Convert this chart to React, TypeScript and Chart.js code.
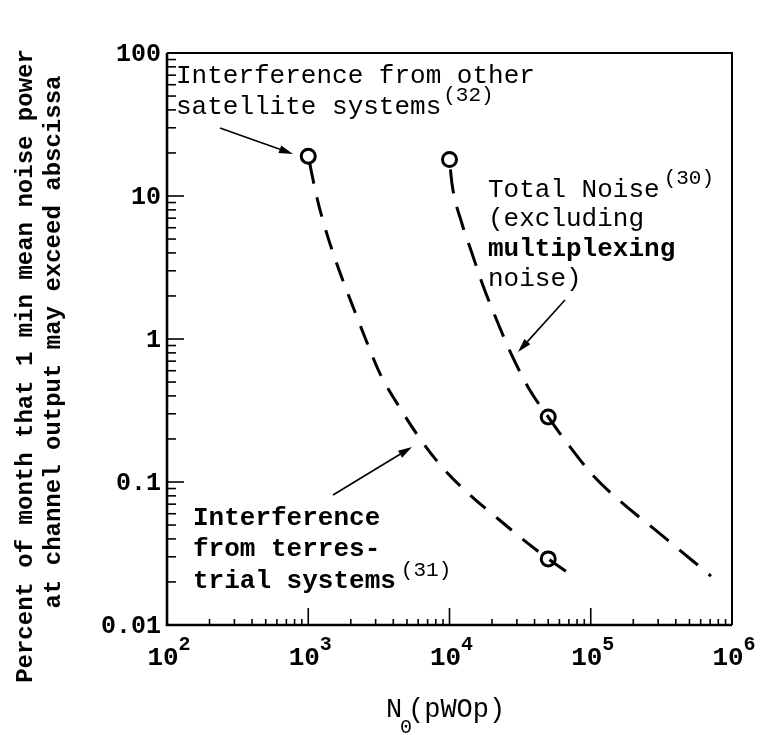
import React, { useEffect, useRef } from "react";
import { Chart, registerables } from "chart.js";

Chart.register(...registerables);

// ---- data ----
const xDecadeExponents = [2, 3, 4, 5, 6];
const yTickValues = [100, 10, 1, 0.1, 0.01];
const yTickLabels = ["100", "10", "1", "0.1", "0.01"];

// Interference from terrestrial systems (31)
const terrestrialX = [1000, 1150, 1350, 1680, 2140, 2600, 3200, 4450, 6200, 9000, 14000, 22700, 35000, 50000, 80000];
const terrestrialY = [19, 9.8, 5.5, 2.9, 1.55, 0.95, 0.58, 0.33, 0.2, 0.125, 0.081, 0.054, 0.038, 0.029, 0.021];

// Total noise (30)
const totalX = [10000, 10400, 12200, 14400, 17200, 21300, 27600, 37000, 50000, 63500, 103000, 153000, 313000, 710000];
const totalY = [18, 12.3, 6.5, 4.0, 2.39, 1.4, 0.77, 0.44, 0.285, 0.205, 0.112, 0.077, 0.043, 0.022];

// circled reference points
const markerX = [1000, 10000, 50000, 50000];
const markerY = [19, 18, 0.285, 0.029];

const MONO = "'Liberation Mono', 'DejaVu Sans Mono', monospace";

function arrow(ctx: CanvasRenderingContext2D, x1: number, y1: number, x2: number, y2: number) {
  ctx.save();
  ctx.strokeStyle = "#000";
  ctx.fillStyle = "#000";
  ctx.lineWidth = 1.6;
  const a = Math.atan2(y2 - y1, x2 - x1);
  const hl = 14, hw = 4;
  const bx = x2 - hl * Math.cos(a), by = y2 - hl * Math.sin(a);
  ctx.beginPath();
  ctx.moveTo(x1, y1);
  ctx.lineTo(bx, by);
  ctx.stroke();
  ctx.beginPath();
  ctx.moveTo(x2, y2);
  ctx.lineTo(bx + hw * Math.sin(a), by - hw * Math.cos(a));
  ctx.lineTo(bx - hw * Math.sin(a), by + hw * Math.cos(a));
  ctx.closePath();
  ctx.fill();
  ctx.restore();
}

const decorPlugin = {
  id: "decor",
  afterDraw(chart: any) {
    const ctx: CanvasRenderingContext2D = chart.ctx;
    const { left, right, top, bottom } = chart.chartArea;
    const xs = chart.scales.x;
    const ys = chart.scales.y;
    ctx.save();
    ctx.strokeStyle = "#000";
    ctx.fillStyle = "#000";

    // frame
    ctx.lineWidth = 2.6;
    ctx.beginPath();
    ctx.moveTo(left, top);
    ctx.lineTo(left, bottom);
    ctx.lineTo(right, bottom);
    ctx.stroke();
    ctx.lineWidth = 2;
    ctx.beginPath();
    ctx.moveTo(left, top);
    ctx.lineTo(right, top);
    ctx.lineTo(right, bottom);
    ctx.stroke();

    // x ticks (inward)
    ctx.lineWidth = 1.6;
    for (let e = 2; e <= 6; e++) {
      for (let m = 1; m <= 9; m++) {
        const v = m * Math.pow(10, e);
        if (v <= 100 || v > 1e6) continue;
        const px = xs.getPixelForValue(v);
        const len = m === 1 ? 17 : 6;
        ctx.beginPath();
        ctx.moveTo(px, bottom);
        ctx.lineTo(px, bottom - len);
        ctx.stroke();
      }
    }
    // y ticks (inward)
    for (let e = -2; e <= 2; e++) {
      for (let m = 1; m <= 9; m++) {
        const v = m * Math.pow(10, e);
        if (v <= 0.01 || v > 100) continue;
        const py = ys.getPixelForValue(v);
        const len = m === 1 ? 17 : 9;
        ctx.beginPath();
        ctx.moveTo(left, py);
        ctx.lineTo(left + len, py);
        ctx.stroke();
      }
    }

    // y tick labels
    ctx.font = `bold 25px ${MONO}`;
    ctx.textAlign = "right";
    ctx.textBaseline = "middle";
    yTickValues.forEach((v, i) => {
      const py = ys.getPixelForValue(v);
      ctx.fillText(yTickLabels[i], left - 6, py + 2);
    });

    // x tick labels: 10 with superscript exponent
    ctx.textAlign = "left";
    ctx.textBaseline = "alphabetic";
    xDecadeExponents.forEach((e) => {
      const px = xs.getPixelForValue(Math.pow(10, e));
      ctx.font = `bold 26px ${MONO}`;
      const w1 = ctx.measureText("10").width;
      ctx.font = `bold 20px ${MONO}`;
      const w2 = ctx.measureText(String(e)).width;
      const x0 = px - (w1 + w2) / 2 + 2;
      ctx.font = `bold 26px ${MONO}`;
      ctx.fillText("10", x0, bottom + 40);
      ctx.font = `bold 20px ${MONO}`;
      ctx.fillText(String(e), x0 + w1, bottom + 25);
    });

    // x axis title
    ctx.font = `27px ${MONO}`;
    ctx.fillText("N", 386, 717);
    ctx.font = `20px ${MONO}`;
    ctx.fillText("0", 400, 733);
    ctx.font = `27px ${MONO}`;
    ctx.fillText("(pWOp)", 408, 717);

    // y axis title
    ctx.save();
    ctx.font = `bold 24px ${MONO}`;
    ctx.textAlign = "center";
    ctx.textBaseline = "middle";
    ctx.translate(26, 366);
    ctx.rotate(-Math.PI / 2);
    ctx.fillText("Percent of month that 1 min mean noise power", 0, 0);
    ctx.restore();
    ctx.save();
    ctx.font = `bold 24px ${MONO}`;
    ctx.textAlign = "center";
    ctx.textBaseline = "middle";
    ctx.translate(54, 342);
    ctx.rotate(-Math.PI / 2);
    ctx.fillText("at channel output may exceed abscissa", 0, 0);
    ctx.restore();

    // annotations
    ctx.textAlign = "left";
    ctx.textBaseline = "alphabetic";
    ctx.font = `26px ${MONO}`;
    ctx.fillText("Interference from other", 176, 83);
    ctx.fillText("satellite systems", 176, 114);
    let w = ctx.measureText("satellite systems").width;
    ctx.font = `21px ${MONO}`;
    ctx.fillText("(32)", 176 + w + 2, 101);

    ctx.font = `26px ${MONO}`;
    ctx.fillText("Total Noise", 488, 197);
    w = ctx.measureText("Total Noise").width;
    ctx.font = `21px ${MONO}`;
    ctx.fillText("(30)", 488 + w + 4, 184);
    ctx.font = `26px ${MONO}`;
    ctx.fillText("(excluding", 488, 226);
    ctx.font = `bold 26px ${MONO}`;
    ctx.fillText("multiplexing", 488, 256);
    ctx.font = `26px ${MONO}`;
    ctx.fillText("noise)", 488, 286);

    ctx.font = `bold 26px ${MONO}`;
    ctx.fillText("Interference", 193, 525);
    ctx.fillText("from terres-", 193, 556);
    ctx.fillText("trial systems", 193, 588);
    w = ctx.measureText("trial systems").width;
    ctx.font = `21px ${MONO}`;
    ctx.fillText("(31)", 193 + w + 5, 576);

    arrow(ctx, 220, 128, 293, 154);
    arrow(ctx, 565, 300, 518, 352);
    arrow(ctx, 333, 495, 412, 447);

    ctx.restore();
  },
};

export default function App() {
  const ref = useRef<HTMLCanvasElement | null>(null);
  useEffect(() => {
    if (!ref.current) return;
    const lineStyle = {
      borderColor: "#000",
      borderWidth: 3,
      borderDash: [20, 14],
      pointRadius: 0,
      fill: false,
      tension: 0.4,
      cubicInterpolationMode: "monotone" as const,
    };
    const chart = new Chart(ref.current, {
      type: "line",
      data: {
        datasets: [
          {
            label: "Interference from terrestrial systems",
            data: terrestrialX.map((x, i) => ({ x, y: terrestrialY[i] })),
            ...lineStyle,
            borderDashOffset: -8,
          },
          {
            label: "Total noise",
            data: totalX.map((x, i) => ({ x, y: totalY[i] })),
            ...lineStyle,
            borderDash: [24, 14],
            borderDashOffset: -10,
          },
          {
            label: "points",
            data: markerX.map((x, i) => ({ x, y: markerY[i] })),
            showLine: false,
            pointRadius: 7,
            pointBorderWidth: 3,
            pointBackgroundColor: "#fff",
            pointBorderColor: "#000",
            borderColor: "#000",
          },
        ],
      },
      options: {
        animation: false,
        responsive: true,
        maintainAspectRatio: false,
        events: [],
        layout: { padding: { left: 167, right: 28, top: 53, bottom: 110 } },
        scales: {
          x: { type: "logarithmic", min: 100, max: 1e6, display: false },
          y: { type: "logarithmic", min: 0.01, max: 100, display: false },
        },
        plugins: { legend: { display: false }, tooltip: { enabled: false } },
      },
      plugins: [decorPlugin],
    });
    return () => chart.destroy();
  }, []);
  return (
    <div style={{ position: "absolute", left: 0, top: 0, width: 760, height: 735, background: "#fff" }}>
      <canvas ref={ref} />
    </div>
  );
}
